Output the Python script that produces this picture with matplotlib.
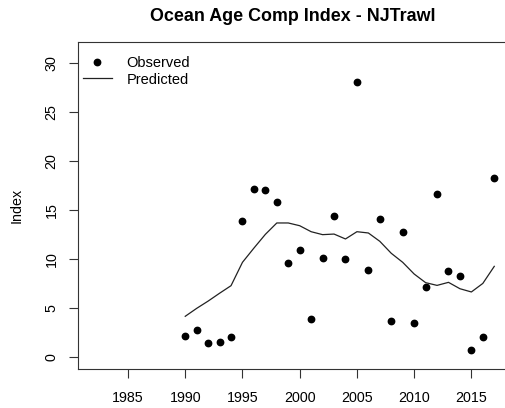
import matplotlib
matplotlib.use("Agg")
import matplotlib.pyplot as plt

plt.rcParams['font.family'] = ['Liberation Sans', 'DejaVu Sans']

years = list(range(1990, 2018))
observed = [2.17, 2.72, 1.46, 1.56, 2.0, 13.9, 17.1, 17.05, 15.77, 9.58,
            10.87, 3.9, 10.09, 14.34, 9.95, 28.0, 8.83, 14.1, 3.7, 12.74,
            3.5, 7.14, 16.6, 8.8, 8.26, 0.75, 2.0, 18.25]
predicted = [4.15, 4.96, 5.7, 6.5, 7.27, 9.65, 11.1, 12.5, 13.66, 13.66,
             13.38, 12.77, 12.47, 12.53, 12.03, 12.77, 12.64, 11.79, 10.57, 9.65,
             8.46, 7.58, 7.3, 7.61, 6.96, 6.63, 7.5, 9.24]
xticks = [1985, 1990, 1995, 2000, 2005, 2010, 2015]
yticks = [0, 5, 10, 15, 20, 25, 30]

fig = plt.figure(figsize=(5.06, 4.08), dpi=100)
ax = fig.add_axes([78 / 506, 1 - 369 / 408, (508 - 78) / 506, (369 - 42) / 408])

ax.plot(years, observed, 'o', color='black', markersize=4.6, label='Observed')
ax.plot(years, predicted, '-', color='#222222', linewidth=0.9, label='Predicted')

ax.set_xlim(1980.63, 2018.2)
ax.set_ylim(-1.22, 32.1)
ax.set_xticks(xticks)
ax.set_yticks(yticks)
ax.set_yticklabels([str(v) for v in yticks], rotation=90, va='center')
ax.tick_params(labelsize=10.3, length=6.5, width=0.8, color='#333333')
ax.tick_params(axis='x', pad=9)
ax.tick_params(axis='y', pad=7.5)
ax.spines['right'].set_visible(False)
for s in ax.spines.values():
    s.set_color('#333333')
    s.set_linewidth(0.8)

ax.set_ylabel('Index', fontsize=10.3)
ax.yaxis.set_label_coords(-54 / 430, 0.5)
ax.set_title('Ocean Age Comp Index - NJTrawl', fontsize=12.9, fontweight='bold', pad=15)

ax.legend(loc='upper left', frameon=False, fontsize=10.5, handlelength=2.0,
          borderaxespad=0.2, handletextpad=1.0, labelspacing=0.2,
          bbox_to_anchor=(-0.009, 0.985))

fig.savefig('out.png', dpi=100)
